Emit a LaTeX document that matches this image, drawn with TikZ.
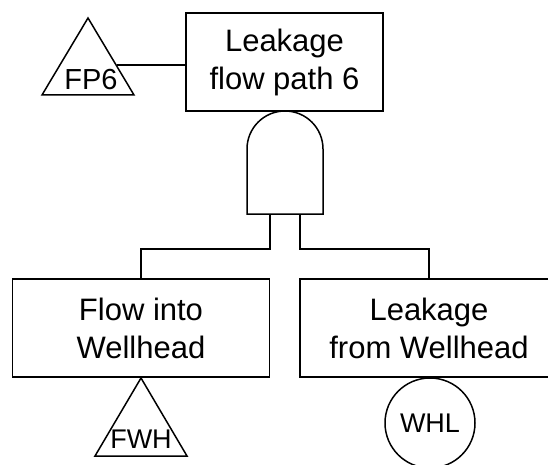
\documentclass[tikz,border=0pt]{standalone}
\usepackage{fontspec}
\setmainfont{Liberation Sans}
\begin{document}
\begin{tikzpicture}[x=1pt,y=-1pt,
  box/.style={draw,line width=1.5pt,rectangle,inner sep=0pt,align=center,font=\fontsize{31}{38}\selectfont},
  line/.style={draw,line width=1.5pt},
  small/.style={inner sep=0pt,font=\fontsize{29}{30}\selectfont,anchor=base},
  ]
\useasboundingbox (0,0) rectangle (548,465);
\clip (0,0) rectangle (548,465);
% top event
\node[box,minimum width=197pt,minimum height=98pt] (top) at (284.5,62) {Leakage\\flow path 6};
% boxes
\node[box,minimum width=257pt,minimum height=98pt] (left) at (141,328) {Flow into\\Wellhead};
\node[box,minimum width=258pt,minimum height=98pt] (right) at (429,328) {Leakage\\from Wellhead};
% AND gate
\draw[line,line join=miter] (247,214) -- (247,149) arc (180:360:38) -- (323,214) -- cycle;
\coordinate (g1) at (270,214);
\coordinate (g2) at (300,214);
\draw[line] (g1) -- (270,249) -| (left.north);
\draw[line] (g2) -- (300,249) -| (right.north);
% FP6 transfer triangle
\draw[line,line join=miter] (88,18) -- (134,95) -- (42,95) -- cycle;
\node[small] (fp6) at (91,90) {FP6};
\coordinate (fp6c) at (117,65);
\draw[line] (fp6c) -- (fp6c -| top.west);
% FWH transfer triangle
\draw[line,line join=miter] (141,378) -- (187,456) -- (95,456) -- cycle;
\node[small,font=\fontsize{27}{30}\selectfont] (fwh) at (141,448) {FWH};
% WHL basic event
\node[draw,line width=1.5pt,circle,minimum size=90pt,inner sep=0pt] (whl) at (430,423) {};
\node[small,font=\fontsize{27}{30}\selectfont] (whlt) at (430,432) {WHL};
\end{tikzpicture}
\end{document}
